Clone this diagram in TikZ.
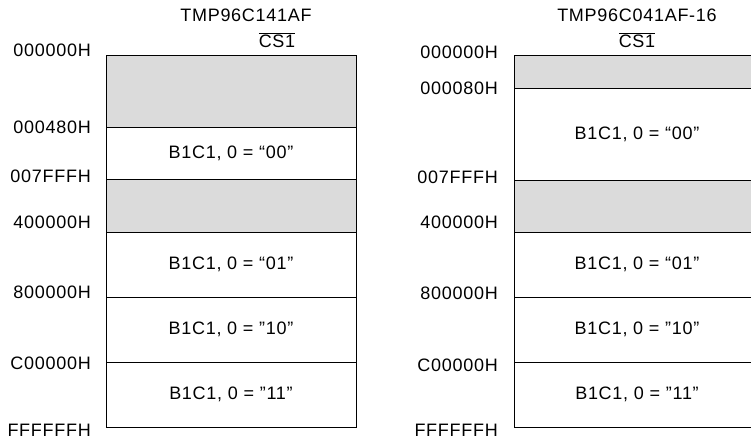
\documentclass[tikz,border=0pt]{standalone}
\usepackage{fontspec}
\setmainfont{Liberation Sans}[LetterSpace=4]
\begin{document}
\begin{tikzpicture}[
		x=1pt, y=-1pt,
		every node/.style={font=\fontsize{18}{21}\selectfont, align=center},
		cell/.style={draw, line width=0.9pt, inner sep=0pt, outer sep=0pt, fill=white},
		lcell/.style={cell, minimum width=250pt},
		rcell/.style={cell, minimum width=246pt},
		resv/.style={fill=black!14},
		addr/.style={anchor=east, inner sep=0pt}
	]
		\useasboundingbox (0,0) rectangle (751,439);

		% TMP96C141AF
		\node (ltitle) at (246, 15) {TMP96C141AF};
		\node (lcs) at (277, 40) {$\overline{\mbox{CS1}}$};

		\node[lcell, resv, minimum height=72pt] (l0) at (231, 91) {};
		\node[lcell, minimum height=52pt] (l1) at (231, 153) {B1C1, 0 = “00”};
		\node[lcell, resv, minimum height=53pt] (l2) at (231, 205.5) {};
		\node[lcell, minimum height=65pt] (l3) at (231, 264.5) {B1C1, 0 = “01”};
		\node[lcell, minimum height=65pt] (l4) at (231, 329.5) {B1C1, 0 = ”10”};
		\node[lcell, minimum height=65pt] (l5) at (231, 394.5) {B1C1, 0 = ”11”};

		\node[addr] (la0) at (91, 50) {000000H};
		\node[addr] (la1) at (91, 127) {000480H};
		\node[addr] (la2) at (91, 176) {007FFFH};
		\node[addr] (la3) at (91, 222) {400000H};
		\node[addr] (la4) at (91, 292) {800000H};
		\node[addr] (la5) at (91, 363) {C00000H};
		\node[addr] (la6) at (91, 430) {FFFFFFH};

		% TMP96C041AF-16
		\node (rtitle) at (637, 15) {TMP96C041AF-16};
		\node (rcs) at (637, 40) {$\overline{\mbox{CS1}}$};

		\node[rcell, resv, minimum height=33pt] (r0) at (637, 71.5) {};
		\node[rcell, minimum height=92pt] (r1) at (637, 134) {B1C1, 0 = “00”};
		\node[rcell, resv, minimum height=52pt] (r2) at (637, 206) {};
		\node[rcell, minimum height=65pt] (r3) at (637, 264.5) {B1C1, 0 = “01”};
		\node[rcell, minimum height=65pt] (r4) at (637, 329.5) {B1C1, 0 = ”10”};
		\node[rcell, minimum height=65pt] (r5) at (637, 394.5) {B1C1, 0 = ”11”};

		\node[addr] (ra0) at (498, 52) {000000H};
		\node[addr] (ra1) at (498, 88) {000080H};
		\node[addr] (ra2) at (498, 177) {007FFFH};
		\node[addr] (ra3) at (498, 222) {400000H};
		\node[addr] (ra4) at (498, 293) {800000H};
		\node[addr] (ra5) at (498, 365) {C00000H};
		\node[addr] (ra6) at (498, 430) {FFFFFFH};
	\end{tikzpicture}
\end{document}
